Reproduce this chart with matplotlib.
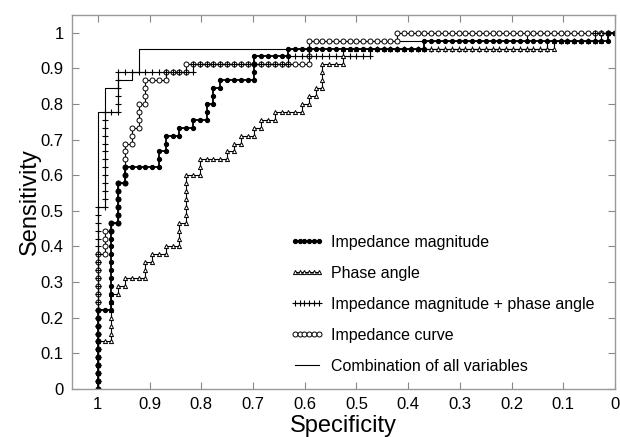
import numpy as np
import matplotlib
matplotlib.use("Agg")
import matplotlib.pyplot as plt

plt.rcParams['font.family'] = ['Liberation Sans', 'DejaVu Sans']

# number of positive / negative cases
N_POS = 45
N_NEG = 76

# ROC curves stored as runs of (true positives, false positives)
# walking along the sorted scores
imp_mag_steps = [(10, 2), (11, 1), (5, 1), (2, 5), (2, 1), (2, 2), (1, 2), (1, 2),
                 (2, 1), (2, 1), (1, 5), (3, 5), (1, 20), (1, 27), (1, 1)]
phase_steps = [(6, 2), (6, 1), (1, 1), (1, 3), (2, 1), (1, 2), (1, 2), (3, 1), (6, 2),
               (2, 4), (1, 1), (1, 1), (1, 2), (1, 1), (1, 2), (1, 4), (1, 1), (1, 1),
               (1, 1), (3, 3), (2, 31), (1, 7), (1, 2)]
mag_phase_steps = [(23, 1), (12, 2), (5, 11), (1, 14), (1, 12), (1, 26), (1, 7), (1, 3)]
curve_steps = [(17, 1), (3, 1), (1, 1), (5, 1), (5, 1), (2, 1), (3, 1), (3, 3), (1, 3),
               (1, 18), (3, 13), (1, 32)]
all_steps = [(35, 1), (3, 2), (1, 2), (1, 1), (3, 25), (1, 32), (1, 13)]

labels = ['Impedance magnitude', 'Phase angle',
          'Impedance magnitude + phase angle', 'Impedance curve',
          'Combination of all variables']


def roc_points(steps):
    fp, tp = [0], [0]
    for up, right in steps:
        for _ in range(up):
            fp.append(fp[-1])
            tp.append(tp[-1] + 1)
        for _ in range(right):
            fp.append(fp[-1] + 1)
            tp.append(tp[-1])
    spec = 1 - np.array(fp) / N_NEG
    sens = np.array(tp) / N_POS
    return spec, sens


fig = plt.figure(figsize=(6.2, 4.37), dpi=100)
ax = fig.add_axes([0.116, 0.110, 0.876, 0.856])

x, y = roc_points(all_steps)
h5, = ax.plot(x, y, color='black', lw=0.8)

x, y = roc_points(curve_steps)
h4, = ax.plot(x, y, color='black', lw=0.8, marker='o', ms=3.6,
              mfc='white', mec='black', mew=0.7)

x, y = roc_points(mag_phase_steps)
h3, = ax.plot(x, y, color='black', lw=0.8, marker='+', ms=4.5, mew=0.8)

x, y = roc_points(phase_steps)
h2, = ax.plot(x, y, color='black', lw=0.8, marker='^', ms=3.0,
              mfc='white', mec='black', mew=0.7)

x, y = roc_points(imp_mag_steps)
h1, = ax.plot(x, y, color='black', lw=1.3, marker='o', ms=2.8,
              mfc='black', mec='black')

ax.set_xlim(1.05, 0)
ax.set_ylim(0, 1.05)
xt = np.round(np.arange(1.0, -0.01, -0.1), 1)
ax.set_xticks(xt)
ax.set_xticklabels(['1' if v == 1 else '0' if v == 0 else f'{v:g}' for v in xt])
yt = np.round(np.arange(0, 1.01, 0.1), 1)
ax.set_yticks(yt)
ax.set_yticklabels(['1' if v == 1 else '0' if v == 0 else f'{v:g}' for v in yt])
ax.tick_params(direction='in', length=5, width=0.8, color='#888888',
               top=True, right=True, labelsize=12, pad=6)
for s in ax.spines.values():
    s.set_color('#999999')
    s.set_linewidth(1.0)

ax.set_xlabel('Specificity', fontsize=17, labelpad=2)
ax.set_ylabel('Sensitivity', fontsize=17, labelpad=0)

ax.legend([h1, h2, h3, h4, h5], labels, loc='upper left',
          bbox_to_anchor=(0.375, 0.45), frameon=False, fontsize=11.5,
          numpoints=6, handlelength=2.1, labelspacing=1.0, handletextpad=0.5)

fig.savefig('out.png', dpi=100)
